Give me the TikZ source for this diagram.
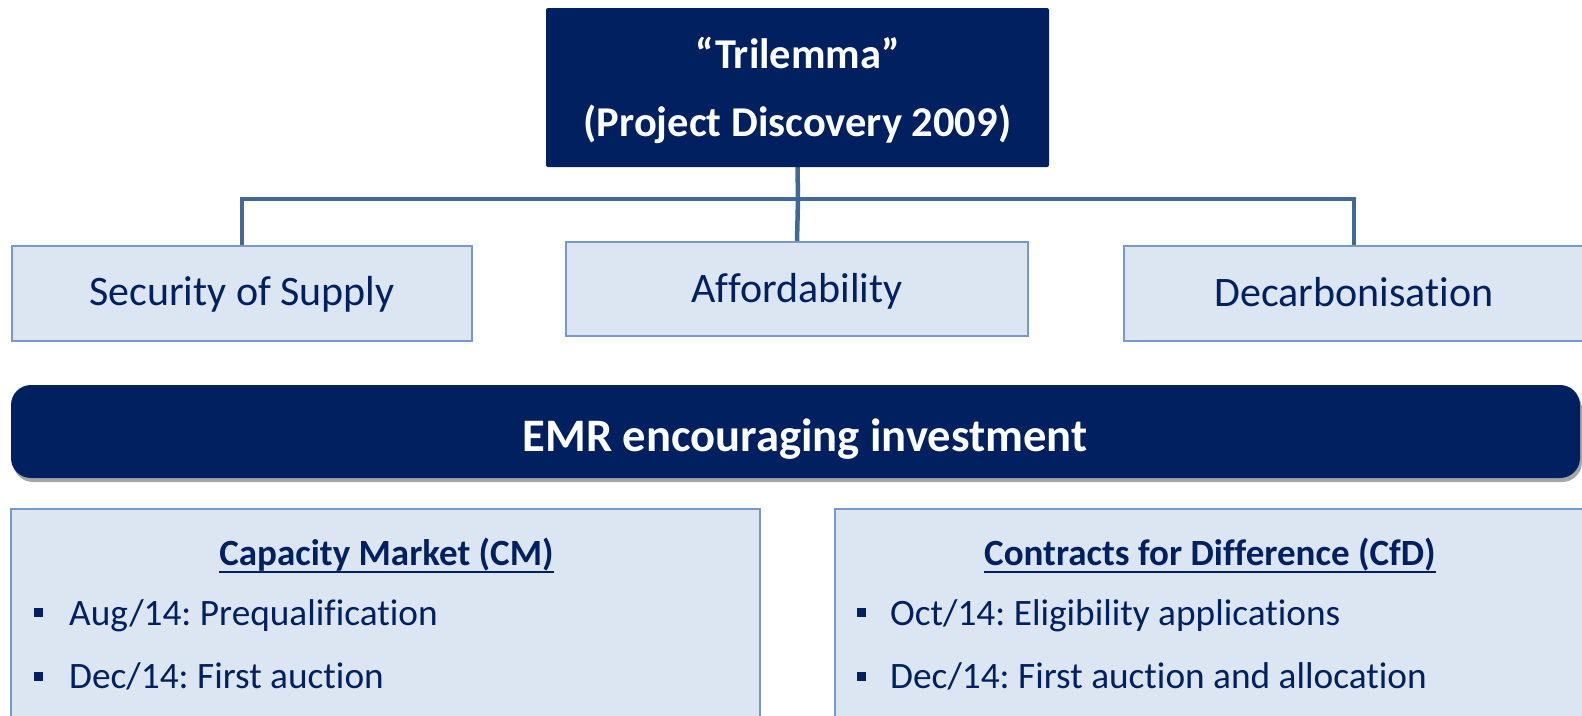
\documentclass[tikz,border=0pt]{standalone}
\usepackage{fontspec}
\setmainfont{Carlito}[Ligatures=NoCommon]
\frenchspacing
\usetikzlibrary{shadows,backgrounds}
\definecolor{navy}{RGB}{0,32,96}
\definecolor{paleblue}{RGB}{220,230,242}
\definecolor{edgeblue}{RGB}{118,152,202}
\definecolor{linkblue}{RGB}{64,104,152}
\begin{document}
\begin{tikzpicture}[x=1pt,y=-1pt,
  darkbox/.style={fill=navy, draw=none, rounded corners=2pt, inner sep=0pt},
  pillar/.style={fill=paleblue, draw=edgeblue, line width=1.5pt, inner sep=0pt,
    minimum width=460pt, minimum height=95pt},
  panel/.style={fill=paleblue, draw=edgeblue, line width=1.5pt, inner sep=0pt,
    minimum height=221pt},
  link/.style={draw=linkblue, line width=4.5pt},
  txt/.style={inner sep=0pt, text=navy, anchor=base},
  wtxt/.style={inner sep=0pt, text=white, anchor=base},
  bigfont/.style={font=\fontsize{42}{50}\selectfont},
  itemfont/.style={font=\fontsize{37.3}{44}\selectfont},
  headfont/.style={font=\bfseries\fontsize{37}{44}\selectfont},
  bulletsq/.style={fill=navy, draw=none, inner sep=0pt, minimum size=9pt},
  underbar/.style={draw=navy, line width=2pt}
]
\clip (0,0) rectangle (1582,715);

% top box
\node[darkbox, minimum width=503pt, minimum height=159pt] (top) at (797.5,87.5) {};
\node[wtxt, font=\bfseries\fontsize{42.5}{50}\selectfont] (t1) at (797.5,68) {“Trilemma”};
\node[wtxt, font=\bfseries\fontsize{42.5}{50}\selectfont] (t2) at (797.5,136) {(Project Discovery 2009)};

% three pillars
\node[pillar] (sec) at (242,293.5) {};
\node[pillar, minimum width=462pt, minimum height=94pt] (aff) at (797,289) {};
\node[pillar] (dec) at (1354,293.5) {};
\node[txt, bigfont] (secT) at (242,305) {Security of Supply};
\node[txt, bigfont] (affT) at (797,302) {Affordability};
\node[txt, bigfont] (decT) at (1354,306) {Decarbonisation};

% tree connectors
\coordinate (hub) at (798,199);
\begin{pgfonlayer}{background}
  \draw[link] (top.south) -- (hub);
  \draw[link] (sec.north) |- (hub) -| (dec.north);
  \draw[link] (hub) -- (aff.north);
\end{pgfonlayer}

% EMR banner
\node[fill=navy, draw=none, rounded corners=20pt, inner sep=0pt,
      minimum width=1569pt, minimum height=93pt,
      drop shadow={shadow xshift=2pt, shadow yshift=-4pt, opacity=0.35, fill=black}]
      (emr) at (795.5,431.5) {};
\node[wtxt, font=\bfseries\fontsize{46.6}{54}\selectfont] (emrT) at (805,451) {EMR encouraging investment};

% lower panels
\node[panel, minimum width=749pt] (cm) at (385.5,619.5) {};
\node[panel, minimum width=765pt] (cfd) at (1217.5,619.5) {};

% Capacity Market
\node[txt, headfont] (cmH) at (386.5,565) {Capacity Market (CM)};
\draw[underbar] ([yshift=-7pt]cmH.base west) -- ([yshift=-7pt]cmH.base east);
\node[bulletsq] (cmb1) at (38,612) {};
\node[bulletsq] (cmb2) at (38,676) {};
\node[txt, itemfont, anchor=base west] (cm1) at (69,625) {Aug/14: Prequalification};
\node[txt, itemfont, anchor=base west] (cm2) at (69,688) {Dec/14: First auction};

% Contracts for Difference
\node[txt, headfont] (cfdH) at (1210,565) {Contracts for Difference (CfD)};
\draw[underbar] ([yshift=-7pt]cfdH.base west) -- ([yshift=-7pt]cfdH.base east);
\node[bulletsq] (cfdb1) at (861,612) {};
\node[bulletsq] (cfdb2) at (861,676) {};
\node[txt, itemfont, anchor=base west] (cfd1) at (890,625) {Oct/14: Eligibility applications};
\node[txt, itemfont, anchor=base west] (cfd2) at (890,688) {Dec/14: First auction and allocation};
\end{tikzpicture}
\end{document}
